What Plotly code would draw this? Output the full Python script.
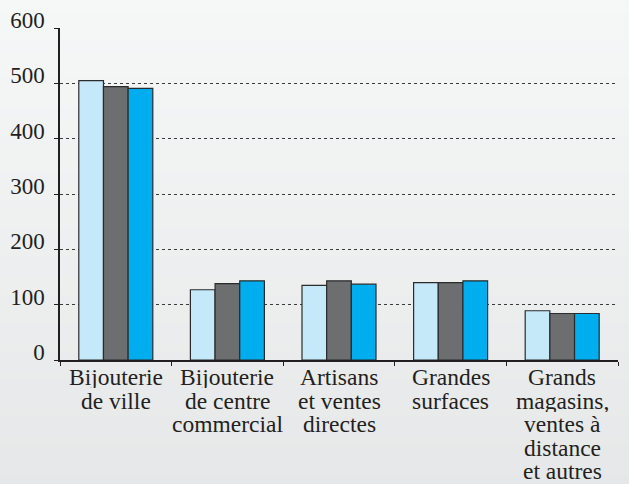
import plotly.graph_objects as go

# Categories and their label lines (drawn as separate lines under each group)
categories = [
    "Bijouterie de ville",
    "Bijouterie de centre commercial",
    "Artisans et ventes directes",
    "Grandes surfaces",
    "Grands magasins, ventes à distance et autres",
]
label_lines = [
    ["Bijouterie", "de ville"],
    ["Bijouterie", "de centre", "commercial"],
    ["Artisans", "et ventes", "directes"],
    ["Grandes", "surfaces"],
    ["Grands", "magasins,", "ventes à", "distance", "et autres"],
]

series_a = [505, 127, 135, 140, 89]
series_b = [494, 138, 143, 140, 84]
series_c = [491, 143, 137, 143, 84]

y_ticks = [0, 100, 200, 300, 400, 500, 600]

colors = ["#C6E9FA", "#6D6E70", "#00AEEF"]
ink = "#231F20"
font_family = "Liberation Serif"

fig = go.Figure()
for name, vals, col in zip(["Série 1", "Série 2", "Série 3"],
                           [series_a, series_b, series_c], colors):
    fig.add_trace(go.Bar(
        x=categories, y=vals, name=name,
        marker=dict(color=col, line=dict(color="#2B2B2B", width=1.2)),
        showlegend=False,
    ))

# soft vertical gradient background
n_bands = 60
top_rgb = (246, 247, 247)
bot_rgb = (228, 229, 230)
shapes = []
for i in range(n_bands):
    t = i / (n_bands - 1)
    r = round(top_rgb[0] + (bot_rgb[0] - top_rgb[0]) * t)
    g = round(top_rgb[1] + (bot_rgb[1] - top_rgb[1]) * t)
    b = round(top_rgb[2] + (bot_rgb[2] - top_rgb[2]) * t)
    y1 = 1 - i / n_bands
    y0 = 1 - (i + 1) / n_bands
    shapes.append(dict(
        type="rect", xref="paper", yref="paper", layer="below",
        x0=-0.2, x1=1.1, y0=-0.6 + 1.7 * y0, y1=-0.6 + 1.7 * y1 + 0.002,
        fillcolor=f"rgb({r},{g},{b})", line=dict(width=0),
    ))

# category labels, one annotation per line with tight line spacing
annotations = []
line_step = 23.5
line_box = 23
for cat, lines in zip(categories, label_lines):
    for i, txt in enumerate(lines):
        annotations.append(dict(
            x=cat, xref="x", y=0, yref="paper",
            text=txt, showarrow=False, xanchor="center", yanchor="top",
            height=line_box, valign="middle",
            yshift=-3 - i * line_step,
            font=dict(family=font_family, size=23.5, color=ink),
        ))

fig.update_layout(
    width=629, height=484,
    margin=dict(l=60, r=11, t=27.5, b=123.5),
    paper_bgcolor="#EEEFEF", plot_bgcolor="rgba(0,0,0,0)",
    barmode="group", bargap=0.337, bargroupgap=0,
    shapes=shapes, annotations=annotations,
    font=dict(family=font_family, size=23, color=ink),
)
fig.update_xaxes(
    showticklabels=False, tickson="boundaries", ticks="outside", ticklen=4,
    tickcolor=ink, showline=True, linecolor=ink, linewidth=1.5,
    showgrid=False, zeroline=False, automargin=False,
)
fig.update_yaxes(
    range=[0, 600], tickvals=y_ticks, ticktext=[str(v) for v in y_ticks],
    ticks="outside", ticklen=4, tickcolor=ink,
    showline=True, linecolor=ink, linewidth=1.5,
    showgrid=True, gridcolor="#3A3A3A", gridwidth=1, griddash="3px,3px",
    zeroline=False, ticklabelshift=-8, ticklabelstandoff=5, automargin=False,
    tickfont=dict(family=font_family, size=23, color=ink),
)

fig.write_html("out.html")
